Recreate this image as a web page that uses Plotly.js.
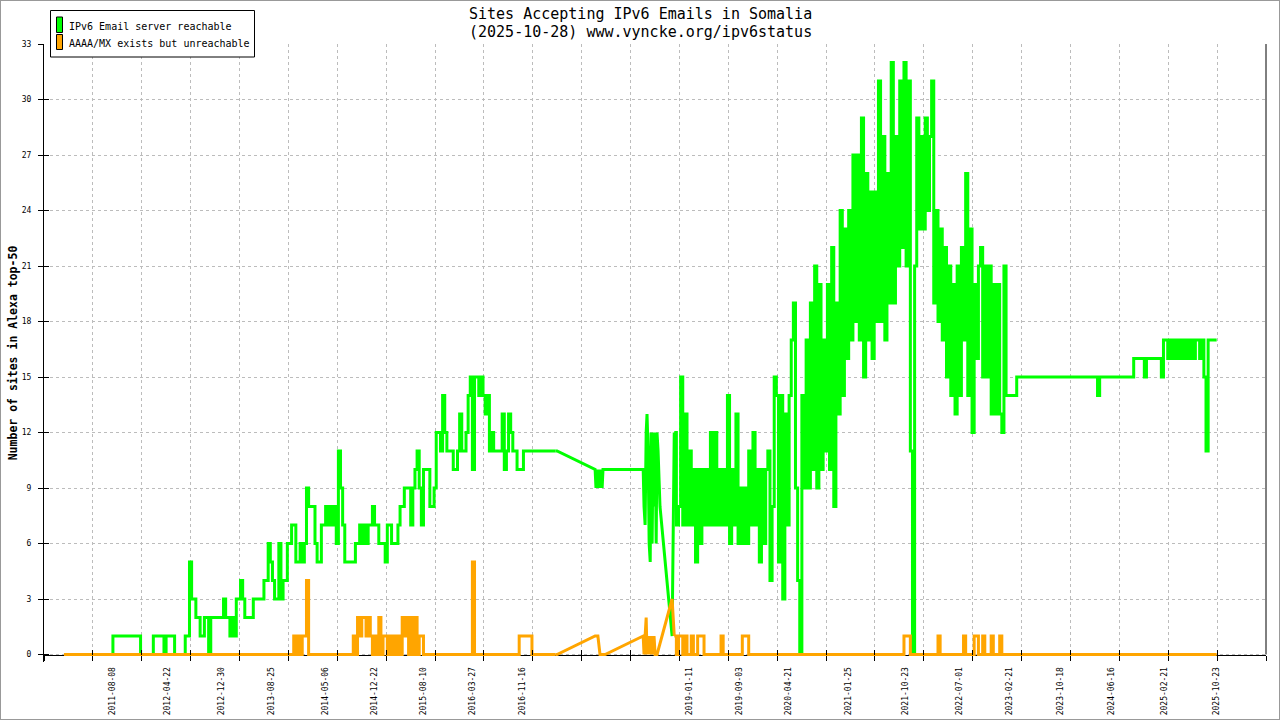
<!DOCTYPE html>
<html>
<head>
<meta charset="utf-8">
<script src="https://cdn.plot.ly/plotly-3.0.1.min.js"></script>
<style>
  html, body { margin: 0; padding: 0; background: #ffffff; }
  #wrap { position: relative; width: 1280px; height: 720px; }
  #chart { width: 1280px; height: 720px; }
  #wrap::after { content: ''; position: absolute; left: 0; top: 0; right: 0; bottom: 0;
                 border: 1px solid #999999; pointer-events: none; }
</style>
</head>
<body>
<div id="wrap"><div id="chart"></div></div>
<script>
// ---------------- DATA ----------------
// Day offsets are counted from this start date of the series.
const seriesStart = '2010-12-22';

// Period A: one reading every 10 days from seriesStart (day 0, 10, 20, ...)
const greenA = [
  0,0,0,0,0,0,0,0,0,0,
  0,0,0,0,0,0,0,0,0,0,
  0,0,0,1,1,1,1,1,1,1,
  1,1,1,1,1,1,0,0,0,0,
  0,0,1,1,1,1,1,0,1,1,
  1,1,0,0,0,0,0,1,1,5,
  3,3,2,2,1,1,2,2,0,2,
  2,2,2,2,2,3,2,2,1,2,
  1,3,3,4,3,2,2,2,2,3,
  3,3,3,3,4,4,6,5,4,3,
  3,6,3,4,4,6,6,7,7,5,
  5,6,5,6,9,8,8,8,6,5,
  5,7,7,8,7,8,7,8,6,11,
  9,7,5,5,5,5,5,6,6,7,
  6,7,6,7,7,8,7,7,6,6,
  6,5,7,7,6,6,6,7,8,8,
  9,9,9,7,9,10,11,9,7,10,
  10,10,8,8,9,12,12,11,14,12,
  11,11,11,10,10,11,13,11,11,12,
  14,15,10,15,15,14,15,14,13,14,
  11,12,11,11,11,11,13,10,11,13,
  12,11,11,10,10,10,11,11,11,11,
  11,11,11,11,11,11,11,11,11,11,
  11,11
];
const orangeA = [
  0,0,0,0,0,0,0,0,0,0,
  0,0,0,0,0,0,0,0,0,0,
  0,0,0,0,0,0,0,0,0,0,
  0,0,0,0,0,0,0,0,0,0,
  0,0,0,0,0,0,0,0,0,0,
  0,0,0,0,0,0,0,0,0,0,
  0,0,0,0,0,0,0,0,0,0,
  0,0,0,0,0,0,0,0,0,0,
  0,0,0,0,0,0,0,0,0,0,
  0,0,0,0,0,0,0,0,0,0,
  0,0,0,0,0,0,0,0,1,0,
  1,0,1,1,4,0,0,0,0,0,
  0,0,0,0,0,0,0,0,0,0,
  0,0,0,0,0,0,1,0,2,1,
  2,2,1,2,1,0,1,0,2,0,
  1,1,0,1,0,1,0,1,0,2,
  1,2,0,2,0,2,0,1,1,0,
  0,0,0,0,0,0,0,0,0,0,
  0,0,0,0,0,0,0,0,0,0,
  0,0,5,0,0,0,0,0,0,0,
  0,0,0,0,0,0,0,0,0,0,
  0,0,0,0,1,1,1,1,1,1,
  0,0,0,0,0,0,0,0,0,0,
  0,0
];

// Period B: sparse readings (2017 - 2018), day offsets from seriesStart
const greenBDays = [2318,2497,2501,2506,2510,2515,2520,2525,2530,2534,2544,2723,2727,2732,2737,2741,2746,2751,2756,2760,2765,2770,2774,2779,2784,2788,2793,2798,2802,2859];
const greenB     = [11,10,9,10,9,10,9,10,9,10,10,10,8,7,12,13,11,6,5,12,6,12,8,12,6,12,11,9,8,1];
const orangeBDays = [2318,2497,2506,2510,2520,2544,2723,2727,2732,2737,2741,2746,2751,2756,2760,2765,2770,2774,2779,2788,2859];
const orangeB     = [0,1,1,1,0,0,1,0,1,2,0,1,0,1,0,1,0,1,0,0,3];

// Period C: one reading every 10 days starting at day 2869 (2018-10-30)
const periodCStartDay = 2869;
const greenC = [
  12,7,8,15,7,13,7,11,7,10,
  5,10,6,10,7,10,7,12,7,12,
  7,10,7,10,7,14,6,10,7,13,
  6,9,6,9,6,11,7,12,7,10,
  5,10,6,10,11,4,8,15,14,5,
  14,3,13,7,14,17,19,9,4,0,
  14,9,17,9,19,10,21,9,20,10,
  17,11,20,10,22,8,19,13,24,14,
  23,16,24,17,27,18,27,17,29,15,
  26,17,25,16,25,18,31,18,28,17,
  26,19,32,19,28,21,31,22,32,21,
  31,11,0,21,29,23,28,23,29,24,
  28,31,19,24,18,23,17,22,15,21,
  14,20,13,21,14,22,17,26,14,23,
  12,20,16,21,22,15,21,15,21,13,
  20,13,20,13,12,21,14,14,14,14,
  14,15,15,15,15,15,15,15,15,15,
  15,15,15,15,15,15,15,15,15,15,
  15,15,15,15,15,15,15,15,15,15,
  15,15,15,15,15,15,15,15,15,14,
  15,15,15,15,15,15,15,15,15,15,
  15,15,15,15,15,15,16,16,16,16,
  16,15,16,16,16,16,16,16,16,15,
  17,17,16,17,16,17,16,17,16,17,
  16,17,16,17,16,17,17,16,17,15,
  11,17,17,17,17,17
];
const orangeC = [
  1,0,1,1,0,1,0,0,1,0,
  0,1,1,1,0,0,0,0,0,0,
  0,0,1,0,0,0,0,0,0,0,
  0,0,1,1,1,0,0,0,0,0,
  0,0,0,0,0,0,0,0,0,0,
  0,0,0,0,0,0,0,0,0,0,
  0,0,0,0,0,0,0,0,0,0,
  0,0,0,0,0,0,0,0,0,0,
  0,0,0,0,0,0,0,0,0,0,
  0,0,0,0,0,0,0,0,0,0,
  0,0,0,0,0,0,0,0,1,1,
  1,0,0,0,0,0,0,0,0,0,
  0,0,0,0,1,0,0,0,0,0,
  0,0,0,0,0,0,1,0,0,0,
  0,1,1,0,0,1,0,0,0,1,
  0,0,0,1,0,0,0,0,0,0,
  0,0,0,0,0,0,0,0,0,0,
  0,0,0,0,0,0,0,0,0,0,
  0,0,0,0,0,0,0,0,0,0,
  0,0,0,0,0,0,0,0,0,0,
  0,0,0,0,0,0,0,0,0,0,
  0,0,0,0,0,0,0,0,0,0,
  0,0,0,0,0,0,0,0,0,0,
  0,0,0,0,0,0,0,0,0,0,
  0,0,0,0,0,0,0,0,0,0,
  0,0,0,0,0,0
];

const xLabelDates = ['2011-08-08','2012-04-22','2012-12-30','2013-08-25','2014-05-06','2014-12-22',
  '2015-08-10','2016-03-27','2016-11-16','2019-01-11','2019-09-03','2020-04-21','2021-01-25',
  '2021-10-23','2022-07-01','2023-02-21','2023-10-18','2024-06-16','2025-02-21','2025-10-23'];
const yTicks = [0,3,6,9,12,15,18,21,24,27,30,33];
const seriesNames = ['IPv6 Email server reachable', 'AAAA/MX exists but unreachable'];
const seriesColors = ['#00ff00', '#ffa500'];
const titleLines = ['Sites Accepting IPv6 Emails in Somalia', '(2025-10-28) www.vyncke.org/ipv6status'];
const yTitle = 'Number of sites in Alexa top-50';

// ---------------- BUILD ----------------
const baseMs = Date.parse(seriesStart + 'T00:00:00Z');
const DAY = 86400000;
function dayStr(d) { return new Date(baseMs + d * DAY).toISOString().slice(0, 19).replace('T', ' '); }
const daysA = greenA.map((_, i) => 10 * i);
const daysC = greenC.map((_, i) => periodCStartDay + 10 * i);

function seriesTraces(valsA, bDays, valsB, valsC, color) {
  const common = { type: 'scatter', mode: 'lines', hoverinfo: 'skip', showlegend: false };
  const lastA = daysA.length - 1;
  return [
    Object.assign({}, common, { x: daysA.map(dayStr), y: valsA, line: { color, width: 3, shape: 'hv' } }),
    Object.assign({}, common, {
      x: [daysA[lastA]].concat(bDays, [daysC[0]]).map(dayStr),
      y: [valsA[lastA]].concat(valsB, [valsC[0]]),
      line: { color, width: 3, shape: 'linear' } }),
    Object.assign({}, common, { x: daysC.map(dayStr), y: valsC, line: { color, width: 3, shape: 'hv' } })
  ];
}

const FONT = 'DejaVu Sans Mono, Liberation Mono, monospace';
const W = 1280, H = 720, ML = 44, MR = 14, MT = 44, MB = 58;
const xRange = [dayStr(-94), dayStr(5651.01)];
const yRange = [-0.405, 33.001];
const xPos = (0 - yRange[0]) / (yRange[1] - yRange[0]);
const gridTick0 = dayStr(-94);
const gridStep = 229.8 * DAY;

const pw = W - ML - MR, ph = H - MT - MB;
const px = v => (v - ML) / pw;
const py = v => (H - MB - v) / ph;

const traces = [].concat(
  seriesTraces(greenA, greenBDays, greenB, greenC, seriesColors[0]),
  seriesTraces(orangeA, orangeBDays, orangeB, orangeC, seriesColors[1]),
  [
    { x: [xLabelDates[0]], y: [null], xaxis: 'x2', yaxis: 'y', type: 'scatter', mode: 'lines', hoverinfo: 'skip', showlegend: false },
    { x: [xLabelDates[0]], y: [null], xaxis: 'x3', yaxis: 'y', type: 'scatter', mode: 'lines', hoverinfo: 'skip', showlegend: false },
    { x: [xLabelDates[0]], y: [null], xaxis: 'x', yaxis: 'y2', type: 'scatter', mode: 'lines', hoverinfo: 'skip', showlegend: false }
  ]
);

const shapes = [
  { type: 'line', xref: 'paper', yref: 'y', x0: 1, x1: 1, y0: 0, y1: 33, line: { color: '#000', width: 1 }, layer: 'above' },
  { type: 'rect', xref: 'paper', yref: 'paper', x0: px(50.5), x1: px(254.5), y0: py(57), y1: py(10.5),
    fillcolor: '#ffffff', line: { color: '#000', width: 1 }, layer: 'above' },
  { type: 'rect', xref: 'paper', yref: 'paper', x0: px(56.5), x1: px(62.5), y0: py(32.5), y1: py(17),
    fillcolor: seriesColors[0], line: { color: '#000', width: 1 }, layer: 'above' },
  { type: 'rect', xref: 'paper', yref: 'paper', x0: px(56.5), x1: px(62.5), y0: py(49.5), y1: py(34.5),
    fillcolor: seriesColors[1], line: { color: '#000', width: 1 }, layer: 'above' }
];
const annotations = [
  { xref: 'paper', yref: 'paper', x: px(67), y: py(26), xanchor: 'left', yanchor: 'middle', showarrow: false,
    text: seriesNames[0], font: { family: FONT, size: 10, color: '#000' } },
  { xref: 'paper', yref: 'paper', x: px(67), y: py(43), xanchor: 'left', yanchor: 'middle', showarrow: false,
    text: seriesNames[1], font: { family: FONT, size: 10, color: '#000' } },
  { xref: 'paper', yref: 'paper', x: px(640), y: py(13.5), xanchor: 'center', yanchor: 'middle', showarrow: false,
    text: titleLines[0], font: { family: FONT, size: 15, color: '#000' } },
  { xref: 'paper', yref: 'paper', x: px(640), y: py(32.5), xanchor: 'center', yanchor: 'middle', showarrow: false,
    text: titleLines[1], font: { family: FONT, size: 15, color: '#000' } }
];

const layout = {
  width: W, height: H,
  margin: { l: ML, r: MR, t: MT, b: MB, pad: 0 },
  paper_bgcolor: '#ffffff', plot_bgcolor: '#ffffff',
  showlegend: false, hovermode: false,
  xaxis: { type: 'date', range: xRange, tickmode: 'linear', tick0: gridTick0, dtick: gridStep,
           showticklabels: false, ticks: 'outside', ticklen: 5, tickwidth: 1, tickcolor: '#000',
           showgrid: true, gridcolor: '#bcbcbc', gridwidth: 1, griddash: '3px,3px',
           showline: true, linecolor: '#000', linewidth: 1, zeroline: false,
           anchor: 'free', position: xPos, layer: 'below traces' },
  xaxis2: { type: 'date', range: xRange, overlaying: 'x', anchor: 'free', position: xPos, side: 'bottom',
            tickmode: 'array', tickvals: xLabelDates, ticktext: xLabelDates, tickangle: -90,
            ticks: '', showgrid: false, showline: false, zeroline: false, ticklabelstandoff: 10,
            tickfont: { family: FONT, size: 8, color: '#000' } },
  xaxis3: { type: 'date', range: xRange, overlaying: 'x', anchor: 'free', position: xPos, side: 'bottom',
            tickmode: 'linear', tick0: gridTick0, dtick: gridStep, ticks: 'inside', ticklen: 5,
            tickcolor: '#000', showticklabels: false, showgrid: false, showline: false, zeroline: false },
  yaxis: { range: yRange, tickmode: 'array', tickvals: yTicks, ticktext: yTicks.map(String),
           ticks: 'outside', ticklen: 5, tickcolor: '#000', ticklabelstandoff: 5,
           tickfont: { family: FONT, size: 8, color: '#000' },
           showgrid: true, gridcolor: '#bcbcbc', gridwidth: 1, griddash: '3px,3px',
           showline: true, linecolor: '#000', linewidth: 1, zeroline: false, layer: 'below traces',
           title: { text: yTitle, standoff: 1, font: { family: FONT, size: 11.5, color: '#000', weight: 'bold' } } },
  yaxis2: { range: yRange, overlaying: 'y', side: 'left', anchor: 'x', tickmode: 'array', tickvals: yTicks,
            ticks: 'inside', ticklen: 5, tickcolor: '#000', showticklabels: false,
            showgrid: false, showline: false, zeroline: false },
  shapes: shapes,
  annotations: annotations
};

Plotly.newPlot('chart', traces, layout, { staticPlot: true, displayModeBar: false });
</script>
</body>
</html>
